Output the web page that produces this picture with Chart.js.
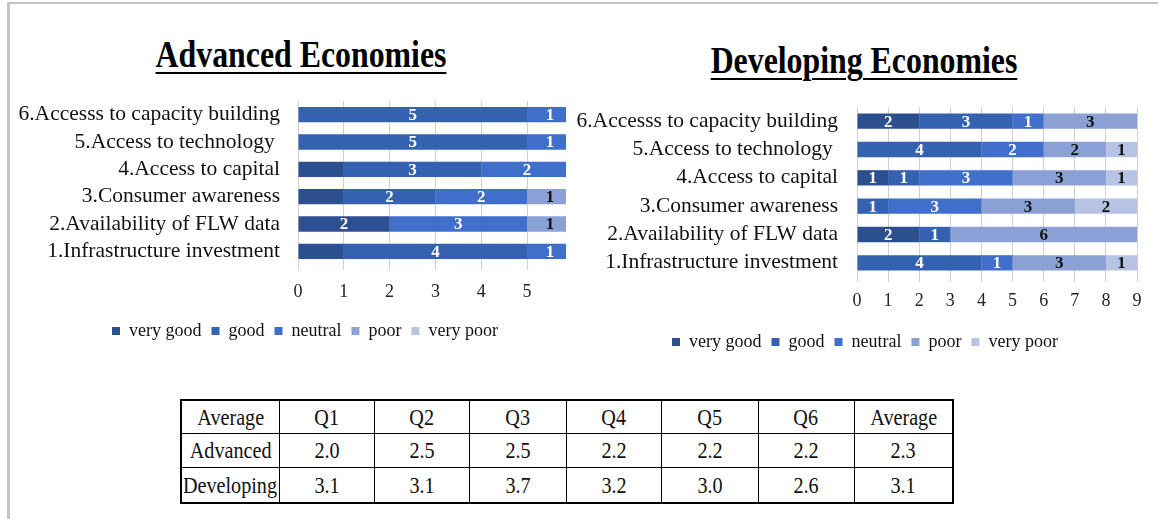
<!DOCTYPE html>
<html lang="en">
<head>
<meta charset="UTF-8">
<title>Advanced vs Developing Economies</title>
<script src="https://cdn.jsdelivr.net/npm/chart.js"></script>
<style>
    body { margin: 0; width: 1158px; height: 519px; overflow: hidden; position: relative; background: #fff; font-family: "Liberation Serif", "Times New Roman", serif; }
    .frame { position: absolute; left: 7px; top: 2px; width: 1151px; height: 517px; border-left: 3px solid #c4c4c4; border-top: 2px solid #c4c4c4; box-sizing: border-box; }
    .title { position: absolute; width: 400px; text-align: center; font-weight: bold; font-size: 37px; text-decoration: underline; text-decoration-thickness: 2px; text-underline-offset: 5px; transform: scaleX(0.86); white-space: nowrap; }
    .wrap { position: absolute; }
    table { position: absolute; left: 180px; top: 399px; width: 772px; table-layout: fixed; border-collapse: collapse; border: 2px solid #000; }
    td { border: 1px solid #000; text-align: center; padding: 0; font-family: "Liberation Serif", "Times New Roman", serif; font-size: 24px; color: #111; overflow: visible; white-space: nowrap; }
    td span { display: inline-block; margin: 0 -30px; transform: scaleX(0.84); }
</style>
</head>
<body>
<div class="frame"></div>
<div class="title" style="left:101px;top:33px;">Advanced Economies</div>
<div class="title" style="left:664px;top:39px;">Developing Economies</div>
<div class="wrap" style="left:10px;top:95px;width:564px;height:255px;"><canvas id="advChart"></canvas></div>
<div class="wrap" style="left:570px;top:100px;width:580px;height:261px;"><canvas id="devChart"></canvas></div>
<table id="avgTable"></table>
<script>
    // rows listed top to bottom as drawn
    const categories = [
        '6.Accesss to capacity building',
        '5.Access to technology ',
        '4.Access to capital',
        '3.Consumer awareness',
        '2.Availability of FLW data',
        '1.Infrastructure investment'
    ];
    const ratings = ['very good', 'good', 'neutral', 'poor', 'very poor'];
    const colors = ['#2c4f8f', '#3461b0', '#3f6fcb', '#8ba1d6', '#b6c3e4'];
    const labelColors = ['#fff', '#fff', '#fff', '#111', '#111'];

    const advVeryGood = [0, 0, 1, 1, 2, 1];
    const advGood     = [5, 5, 3, 2, 0, 4];
    const advNeutral  = [1, 1, 2, 2, 3, 1];
    const advPoor     = [0, 0, 0, 1, 1, 0];
    const advVeryPoor = [0, 0, 0, 0, 0, 0];
    // segments whose value label is not shown in the original
    const advNoLabel = [[0, 2], [0, 3], [0, 5]];
    const advTicks = [0, 1, 2, 3, 4, 5];

    const devVeryGood = [2, 0, 1, 0, 2, 0];
    const devGood     = [3, 4, 1, 1, 1, 4];
    const devNeutral  = [1, 2, 3, 3, 0, 1];
    const devPoor     = [3, 2, 3, 3, 6, 3];
    const devVeryPoor = [0, 1, 1, 2, 0, 1];
    const devTicks = [0, 1, 2, 3, 4, 5, 6, 7, 8, 9];

    const tableHead = ['Average', 'Q1', 'Q2', 'Q3', 'Q4', 'Q5', 'Q6', 'Average'];
    const advAvg = ['2.0', '2.5', '2.5', '2.2', '2.2', '2.2', '2.3'];
    const devAvg = ['3.1', '3.1', '3.7', '3.2', '3.0', '2.6', '3.1'];

    const serif = '"Liberation Serif", "Times New Roman", serif';

    const segLabels = {
        id: 'segLabels',
        afterDatasetsDraw(chart, args, opts) {
            const ctx = chart.ctx;
            ctx.save();
            ctx.font = 'bold 17px ' + serif;
            ctx.textAlign = 'center';
            ctx.textBaseline = 'middle';
            chart.data.datasets.forEach((ds, di) => {
                chart.getDatasetMeta(di).data.forEach((bar, i) => {
                    const v = ds.data[i];
                    if (!v) return;
                    if ((opts.skip || []).some(s => s[0] === di && s[1] === i)) return;
                    ctx.fillStyle = labelColors[di];
                    ctx.fillText(String(v), (bar.x + bar.base) / 2, bar.y + 1);
                });
            });
            ctx.restore();
        }
    };

    // move the legend right, under the plot, without squeezing the y labels
    const legendShift = {
        id: 'legendShift',
        afterLayout(chart, args, opts) {
            const lg = chart.legend;
            if (lg && opts.x) {
                lg.left += opts.x;
                lg.right += opts.x;
            }
        }
    };

    function makeChart(id, series, cfg) {
        return new Chart(document.getElementById(id), {
            type: 'bar',
            data: {
                labels: categories,
                datasets: series.map((d, i) => ({
                    label: ratings[i],
                    data: d,
                    backgroundColor: colors[i],
                    borderWidth: 0,
                    barPercentage: cfg.barPct,
                    categoryPercentage: 1
                }))
            },
            options: {
                indexAxis: 'y',
                responsive: true,
                maintainAspectRatio: false,
                animation: false,
                layout: { padding: cfg.padding },
                scales: {
                    x: {
                        stacked: true,
                        min: 0,
                        max: cfg.max,
                        ticks: { color: '#222', font: { family: serif, size: 18 }, padding: cfg.tickPad },
                        grid: { color: '#cfcfcf', tickLength: 5 },
                        border: { display: false },
                        afterBuildTicks: s => { s.ticks = cfg.ticks.map(v => ({ value: v })); },
                        afterFit: s => { s.height = cfg.xHeight; s.paddingLeft = 0; s.paddingRight = 0; }
                    },
                    y: {
                        stacked: true,
                        ticks: { color: '#111', font: { family: serif, size: 21.5 }, padding: cfg.yPad, autoSkip: false },
                        grid: { display: false },
                        border: { display: false },
                        afterFit: s => { s.width = cfg.yWidth; s.paddingTop = 0; s.paddingBottom = 0; }
                    }
                },
                plugins: {
                    legend: {
                        position: 'bottom',
                        align: 'start',
                        labels: { boxWidth: 8, boxHeight: 8, padding: 10, color: '#111', font: { family: serif, size: 18 } }
                    },
                    tooltip: { enabled: false },
                    segLabels: { skip: cfg.skip },
                    legendShift: { x: cfg.legendX }
                }
            },
            plugins: [segLabels, legendShift]
        });
    }

    makeChart('advChart', [advVeryGood, advGood, advNeutral, advPoor, advVeryPoor], {
        max: 5.85, ticks: advTicks, barPct: 0.56, tickPad: 11, xHeight: 47, yWidth: 288, yPad: 10, legendX: 92,
        padding: { top: 6, left: 0, right: 8, bottom: 0 }, skip: advNoLabel
    });
    makeChart('devChart', [devVeryGood, devGood, devNeutral, devPoor, devVeryPoor], {
        max: 9, ticks: devTicks, barPct: 0.54, tickPad: 8, xHeight: 46, yWidth: 287, yPad: 11, legendX: 92,
        padding: { top: 7, left: 0, right: 13, bottom: 0 }, skip: []
    });

    // summary table
    const colW = [98, 95, 95, 97, 95, 97, 96, 99];
    const tbl = document.getElementById('avgTable');
    const cg = document.createElement('colgroup');
    colW.forEach(w => {
        const col = document.createElement('col');
        col.style.width = w + 'px';
        cg.appendChild(col);
    });
    tbl.appendChild(cg);
    [[tableHead, 32], [['Advanced'].concat(advAvg), 33], [['Developing'].concat(devAvg), 34]].forEach(([cells, h]) => {
        const tr = document.createElement('tr');
        cells.forEach(c => {
            const td = document.createElement('td');
            td.style.height = h + 'px';
            const sp = document.createElement('span');
            sp.textContent = c;
            td.appendChild(sp);
            tr.appendChild(td);
        });
        tbl.appendChild(tr);
    });
</script>
</body>
</html>
